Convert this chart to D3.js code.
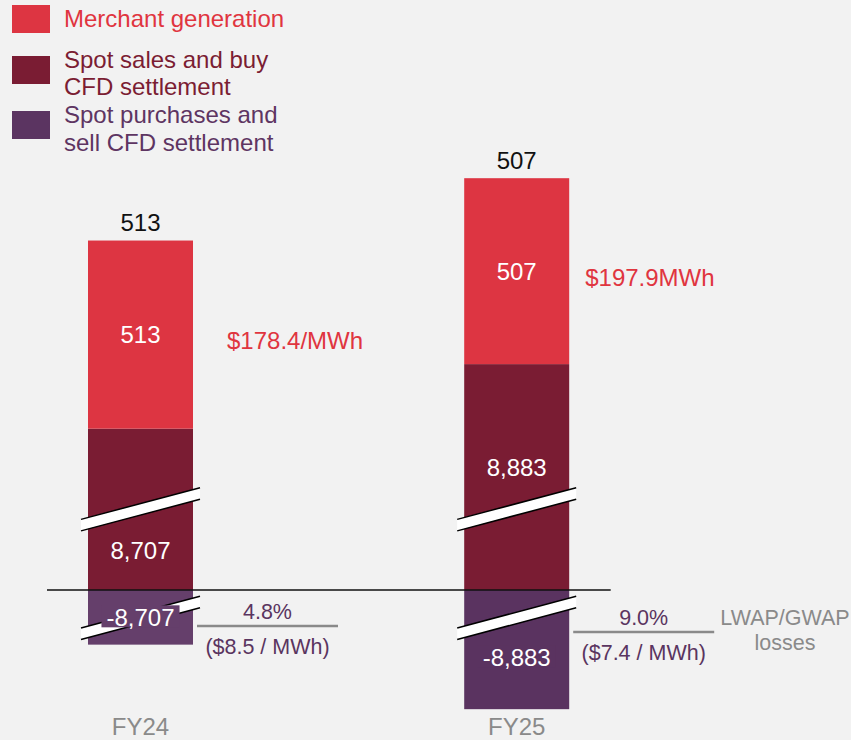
<!DOCTYPE html>
<html>
<head>
<meta charset="utf-8">
<script src="https://cdn.jsdelivr.net/npm/d3@7"></script>
<style>
  html, body { margin: 0; padding: 0; background: #f2f2f2; }
  svg { display: block; font-family: "Liberation Sans", Arial, sans-serif; }
</style>
</head>
<body>
<div id="chart"></div>
<script>
// -------------------------------------------------------------
// DATA
// -------------------------------------------------------------
const categories = ["FY24", "FY25"];
const merchant = [513, 507];
const spotSales = [8707, 8883];
const spotPurchases = [-8707, -8883];
const merchantPrice = ["$178.4/MWh", "$197.9MWh"];
const lossPct = ["4.8%", "9.0%"];
const lossPrice = ["($8.5 / MWh)", "($7.4 / MWh)"];
const legendNames = [
  ["Merchant generation"],
  ["Spot sales and buy", "CFD settlement"],
  ["Spot purchases and", "sell CFD settlement"]
];

// units hidden by the axis breaks
const posCut = 8267;
const negCut = 8558;

// -------------------------------------------------------------
// STYLE
// -------------------------------------------------------------
const width = 851, height = 740;
const red = "#dd3542", wine = "#7a1c33", plum = "#5b3461";
const negFill = ["#653f6b", "#5a3360"];
const legendText = ["#e0353f", "#7b1d33", "#5e3562"];
const grey = "#8a8a8a";
const fs = "24px";
const small = "21.5px";
const barW = 105;
const priceDx = [34, 16];
const lossDy = [36, 42];

const fmt = v => d3.format(",")(v).replace("\u2212", "-");

const svg = d3.select("#chart").append("svg")
  .attr("width", width).attr("height", height)
  .style("background", "#f2f2f2");

// -------------------------------------------------------------
// SCALES
// -------------------------------------------------------------
const x = d3.scalePoint().domain(categories).range([140.5, 516.7]);
const y = d3.scaleLinear().domain([0, 1000]).range([590, 590 - 366.7]);
const disp = v => v > 0 ? v - posCut : v + negCut;

const bars = categories.map((c, i) => ({
  cat: c, i,
  cx: x(c),
  spotTop: y(disp(spotSales[i])),
  merchTop: y(disp(spotSales[i] + merchant[i])),
  negBottom: y(disp(spotPurchases[i]))
}));

// -------------------------------------------------------------
// BARS
// -------------------------------------------------------------
const g = svg.append("g");

g.selectAll("rect.spot").data(bars).enter().append("rect")
  .attr("x", d => d.cx - barW / 2).attr("width", barW)
  .attr("y", d => d.spotTop).attr("height", d => y(0) - d.spotTop)
  .attr("fill", wine);

g.selectAll("rect.merch").data(bars).enter().append("rect")
  .attr("x", d => d.cx - barW / 2).attr("width", barW)
  .attr("y", d => d.merchTop).attr("height", d => d.spotTop - d.merchTop)
  .attr("fill", red);

g.selectAll("rect.neg").data(bars).enter().append("rect")
  .attr("x", d => d.cx - barW / 2).attr("width", barW)
  .attr("y", y(0)).attr("height", d => d.negBottom - y(0))
  .attr("fill", (d, i) => negFill[i]);

// -------------------------------------------------------------
// AXIS BREAKS
// -------------------------------------------------------------
const posBreakY = y(220), negBreakY = y(-76);
const slope = 0.2655, halfW = 59.5, thick = 11.5;

function drawBreak(cx, cy) {
  const x0 = cx - halfW, x1 = cx + halfW;
  const top = xx => cy - thick / 2 - slope * (xx - cx);
  const bot = xx => cy + thick / 2 - slope * (xx - cx);
  g.append("polygon")
    .attr("points", [[x0, top(x0)], [x1, top(x1)], [x1, bot(x1)], [x0, bot(x0)]].map(p => p.join(",")).join(" "))
    .attr("fill", "#fff");
  [top, bot].forEach(f => {
    g.append("line")
      .attr("x1", x0).attr("y1", f(x0)).attr("x2", x1).attr("y2", f(x1))
      .attr("stroke", "#000").attr("stroke-width", 1.5);
  });
}
bars.forEach(d => { drawBreak(d.cx, posBreakY); drawBreak(d.cx, negBreakY); });

// baseline
g.append("line")
  .attr("x1", x("FY24") - 93.5).attr("x2", x("FY25") + 94)
  .attr("y1", y(0)).attr("y2", y(0))
  .attr("stroke", "#111").attr("stroke-width", 1.5);

// -------------------------------------------------------------
// LABELS
// -------------------------------------------------------------
function label(xx, yy, txt, color, anchor = "middle", size = fs) {
  return svg.append("text")
    .attr("x", xx).attr("y", yy).attr("dy", "0.35em")
    .attr("text-anchor", anchor)
    .style("font-size", size).style("fill", color)
    .text(txt);
}

bars.forEach(d => {
  const i = d.i;
  // totals above
  label(d.cx, d.merchTop - 18, fmt(merchant[i]), "#111");
  // merchant inside
  label(d.cx, (d.merchTop + d.spotTop) / 2, fmt(merchant[i]), "#fff");
  // spot sales
  let mid = (d.spotTop + y(0)) / 2 - 9;
  if (Math.abs(mid - posBreakY) < 30) mid = (posBreakY + thick / 2 + y(0)) / 2 - 2;
  label(d.cx, mid, fmt(spotSales[i]), "#fff");
  // spot purchases with background box
  let nm = (y(0) + d.negBottom) / 2;
  if (Math.abs(nm - negBreakY) > 20) nm += 8;
  const t = label(d.cx, nm, fmt(spotPurchases[i]), "#fff");
  const tw = t.node().getComputedTextLength();
  svg.insert("rect", () => t.node())
    .attr("x", d.cx - tw / 2 - 5).attr("width", tw + 10)
    .attr("y", nm - 12).attr("height", 22)
    .attr("fill", negFill[i]);
  // price
  label(d.cx + barW / 2 + priceDx[i], (d.merchTop + d.spotTop) / 2 + 6, merchantPrice[i], "#e0353f", "start");
  // losses
  const ly = y(0) + lossDy[i];
  const lx0 = d.cx + barW / 2 + 4;
  const lx1 = lx0 + 141;
  svg.append("line")
    .attr("x1", lx0).attr("x2", lx1).attr("y1", ly).attr("y2", ly)
    .attr("stroke", grey).attr("stroke-width", 2.5);
  label((lx0 + lx1) / 2, ly - 15, lossPct[i], "#5a3560", "middle", small);
  label((lx0 + lx1) / 2, ly + 20, lossPrice[i], "#5a3560", "middle", small);
  // category
  label(d.cx, 727, d.cat, grey);
});

label(785, 617, "LWAP/GWAP", grey, "middle", small);
label(785, 642, "losses", grey, "middle", small);

// -------------------------------------------------------------
// LEGEND
// -------------------------------------------------------------
const legendColors = [red, wine, plum];
const legendBoxY = [5, 56, 111];
const legendLineY = [[19], [60, 87], [115, 143]];

legendNames.forEach((lines, i) => {
  svg.append("rect")
    .attr("x", 12).attr("y", legendBoxY[i])
    .attr("width", 38).attr("height", 28)
    .attr("fill", legendColors[i]);
  lines.forEach((ln, j) => label(64, legendLineY[i][j], ln, legendText[i], "start"));
});
</script>
</body>
</html>
